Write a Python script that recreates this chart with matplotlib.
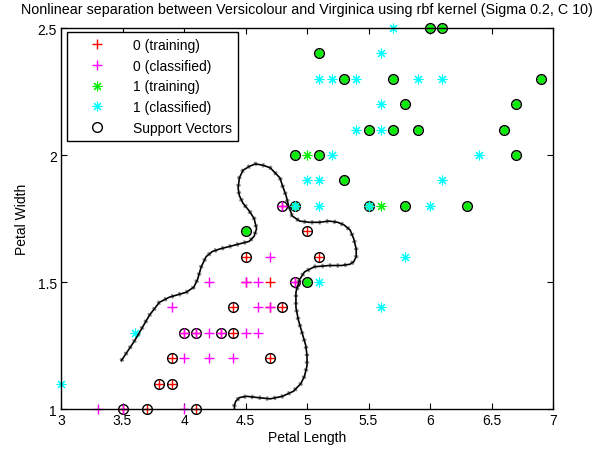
import numpy as np
import matplotlib
matplotlib.use("Agg")
import matplotlib.pyplot as plt

plt.rcParams["font.family"] = "Liberation Sans"

# %% Data (petal length, petal width)

# class 0 (Versicolour) training points, support vectors
tr0_sv_x = [3.5, 3.7, 4.1, 3.8, 3.9, 3.9, 4.7, 4.0, 4.1, 4.3, 4.4, 4.4, 4.8, 4.9, 4.5, 5.0, 5.1, 4.8]
tr0_sv_y = [1.0, 1.0, 1.0, 1.1, 1.1, 1.2, 1.2, 1.3, 1.3, 1.3, 1.3, 1.4, 1.4, 1.5, 1.6, 1.7, 1.6, 1.8]
# class 0 training points, not support vectors
tr0_x = [4.5, 4.7, 4.7]
tr0_y = [1.5, 1.5, 1.4]

# class 0 classified points
cl0_x = [3.3, 3.5, 4.0, 4.0, 4.2, 4.4, 3.9, 4.6, 4.7, 4.0, 4.1, 4.2, 4.3, 4.5, 4.6,
         4.2, 4.5, 4.6, 4.9, 4.7, 4.8]
cl0_y = [1.0, 1.0, 1.0, 1.2, 1.2, 1.2, 1.4, 1.4, 1.4, 1.3, 1.3, 1.3, 1.3, 1.3, 1.3,
         1.5, 1.5, 1.5, 1.5, 1.6, 1.8]

# class 1 (Virginica) training points, support vectors
tr1_sv_x = [4.9, 5.1, 6.7, 5.3, 4.9, 5.5, 5.8, 6.3, 4.5, 5.0, 5.5, 5.7, 5.9, 6.6,
            5.8, 6.7, 5.3, 5.7, 6.9, 5.1, 6.0, 6.1]
tr1_sv_y = [2.0, 2.0, 2.0, 1.9, 1.8, 1.8, 1.8, 1.8, 1.7, 1.5, 2.1, 2.1, 2.1, 2.1,
            2.2, 2.2, 2.3, 2.3, 2.3, 2.4, 2.5, 2.5]
# class 1 training points, not support vectors
tr1_x = [5.0, 5.6]
tr1_y = [2.0, 1.8]

# class 1 classified points
cl1_x = [3.0, 3.6, 5.1, 5.6, 5.8, 5.1, 6.0, 4.9, 5.5, 5.0, 5.1, 6.1, 5.2, 6.4,
         5.4, 5.6, 5.6, 5.1, 5.2, 5.4, 5.9, 6.1, 5.6, 5.7]
cl1_y = [1.1, 1.3, 1.5, 1.4, 1.6, 1.8, 1.8, 1.8, 1.8, 1.9, 1.9, 1.9, 2.0, 2.0,
         2.1, 2.1, 2.2, 2.3, 2.3, 2.3, 2.3, 2.3, 2.4, 2.5]

# decision boundary
bnd_x = [3.49, 3.60, 3.72, 3.80, 3.88, 4.02, 4.08, 4.11, 4.14, 4.18, 4.23, 4.29,
         4.37, 4.45, 4.53, 4.57, 4.59, 4.57, 4.53, 4.48, 4.45, 4.44, 4.45, 4.48,
         4.53, 4.58, 4.64, 4.70, 4.74, 4.78, 4.80, 4.83, 4.85, 4.88, 4.94, 5.02,
         5.10, 5.18, 5.25, 5.30, 5.35, 5.38, 5.40, 5.40, 5.38, 5.35, 5.28, 5.18,
         5.06, 4.98, 4.94, 4.91, 4.91, 4.93, 4.96, 4.99, 5.00, 5.00, 4.98, 4.95,
         4.89, 4.80, 4.70, 4.60, 4.51, 4.45, 4.42, 4.41, 4.41]
bnd_y = [1.19, 1.27, 1.37, 1.42, 1.44, 1.46, 1.48, 1.51, 1.56, 1.60, 1.62, 1.63,
         1.64, 1.65, 1.66, 1.68, 1.71, 1.75, 1.78, 1.81, 1.84, 1.87, 1.91, 1.94,
         1.955, 1.965, 1.96, 1.95, 1.93, 1.91, 1.88, 1.84, 1.80, 1.76, 1.74, 1.735,
         1.735, 1.74, 1.735, 1.725, 1.705, 1.67, 1.63, 1.60, 1.58, 1.57, 1.565, 1.565,
         1.56, 1.54, 1.51, 1.46, 1.40, 1.35, 1.30, 1.25, 1.21, 1.17, 1.13, 1.10,
         1.07, 1.05, 1.04, 1.045, 1.05, 1.045, 1.03, 1.015, 1.00]

# %% Plot

fig = plt.figure(figsize=(5.94, 4.52), dpi=100)
ax = fig.add_axes([0.1027, 0.0929, 0.8283, 0.8429])

ms = 7
ast = (8, 2, 0)  # asterisk like matlab '*'
h1, = ax.plot(tr0_sv_x + tr0_x, tr0_sv_y + tr0_y, "+", color="red", ms=ms, mew=1,
              label="0 (training)", clip_on=False)
h3, = ax.plot(tr1_sv_x + tr1_x, tr1_sv_y + tr1_y, ls="none", marker=ast, color="#00ee00",
              ms=ms, mew=0.8, label="1 (training)", clip_on=False)
h5, = ax.plot(tr0_sv_x + tr1_sv_x, tr0_sv_y + tr1_sv_y, "o", mfc="none", mec="black",
              ms=ms, mew=1, label="Support Vectors", clip_on=False)
h2, = ax.plot(cl0_x, cl0_y, "+", color="magenta", ms=ms, mew=1, label="0 (classified)",
              clip_on=False)
h4, = ax.plot(cl1_x, cl1_y, ls="none", marker=ast, color="cyan", ms=ms, mew=0.8,
              label="1 (classified)", clip_on=False)

# green fill inside the class 1 support vector circles
ax.plot(tr1_sv_x, tr1_sv_y, "o", color="#33dd33", ms=5.5, mew=0, zorder=1.5, clip_on=False)

# hairy-looking contour line
ax.plot(bnd_x, bnd_y, color="0.55", lw=3.2, ls=(0, (0.5, 1.2)), zorder=1)
ax.plot(bnd_x, bnd_y, color="black", lw=1.2, zorder=2)

ax.set_xlim(3, 7)
ax.set_ylim(1, 2.5)
ax.set_xticks([3, 3.5, 4, 4.5, 5, 5.5, 6, 6.5, 7])
ax.set_xticklabels(["3", "3.5", "4", "4.5", "5", "5.5", "6", "6.5", "7"])
ax.set_yticks([1, 1.5, 2, 2.5])
ax.set_yticklabels(["1", "1.5", "2", "2.5"])
ax.tick_params(direction="in", top=True, right=True, length=4, labelsize=10, pad=3)
for s in ax.spines.values():
    s.set_linewidth(1)

ax.set_xlabel("Petal Length", fontsize=10, labelpad=2)
ax.set_ylabel("Petal Width", fontsize=10, labelpad=6)
ax.set_title("Nonlinear separation between Versicolour and Virginica using rbf kernel (Sigma 0.2, C 10)",
             fontsize=10.3, pad=11)

leg = ax.legend(handles=[h1, h2, h3, h4, h5], loc="upper left",
                bbox_to_anchor=(0.012, 0.99), borderaxespad=0, fontsize=10,
                fancybox=False, edgecolor="black", framealpha=1,
                handlelength=3.4, handletextpad=0.9, labelspacing=0.48, borderpad=0.45)
leg.get_frame().set_linewidth(1)

plt.savefig("out.png", dpi=100)
plt.close()
